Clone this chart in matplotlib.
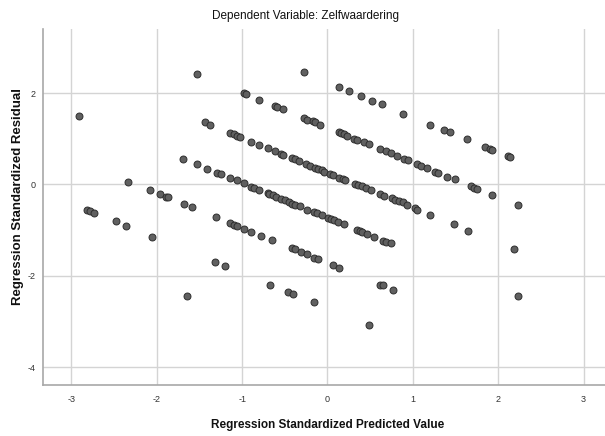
import matplotlib
matplotlib.use("Agg")
import matplotlib.pyplot as plt
from matplotlib import font_manager

title = "Dependent Variable: Zelfwaardering"
x_label = "Regression Standardized Predicted Value"
y_label = "Regression Standardized Residual"

x_ticks = [-3, -2, -1, 0, 1, 2, 3]
y_ticks = [-4, -2, 0, 2]

# isolated / left points
pred_a = [-2.91, -2.82, -2.78, -2.73, -2.48, -2.36, -2.34, -2.08, -2.05, -1.96, -1.89, -1.87,
          -1.68, -1.59, -1.65, -1.53, -0.28]
resid_a = [1.49, -0.55, -0.58, -0.63, -0.81, -0.91, 0.06, -0.13, -1.15, -0.22, -0.27, -0.28,
           -0.43, -0.50, -2.43, 2.42, 2.45]

# top band
pred_t = [0.13, 0.25, 0.39, 0.52, 0.64, 0.89, 1.20, 1.36, 1.44, 1.63, 1.84, 1.90, 1.93, 2.11, 2.14]
resid_t = [2.14, 2.04, 1.93, 1.83, 1.75, 1.55, 1.31, 1.20, 1.14, 0.99, 0.82, 0.77, 0.75, 0.62, 0.59]

# band 1
pred_1 = [-0.98, -0.95, -0.80, -0.62, -0.59, -0.52, -0.28, -0.24, -0.17, -0.15, -0.09,
          0.13, 0.16, 0.19, 0.23, 0.31, 0.34, 0.43, 0.49, 0.62, 0.68, 0.74, 0.81, 0.90, 0.94,
          1.05, 1.10, 1.16, 1.26, 1.30, 1.40, 1.49, 1.68, 1.72, 1.75, 1.93, 2.23]
resid_1 = [1.99, 1.97, 1.85, 1.72, 1.69, 1.64, 1.45, 1.42, 1.39, 1.36, 1.31,
           1.15, 1.13, 1.10, 1.07, 1.00, 0.98, 0.92, 0.88, 0.78, 0.74, 0.69, 0.63, 0.56, 0.53,
           0.45, 0.41, 0.36, 0.28, 0.25, 0.17, 0.11, -0.04, -0.07, -0.09, -0.23, -0.46]

# band 2
pred_2 = [-1.44, -1.38, -1.14, -1.09, -1.06, -1.02, -0.89, -0.80, -0.70, -0.61, -0.55, -0.52,
          -0.42, -0.38, -0.33, -0.25, -0.20, -0.15, -0.11, -0.07, -0.04, 0.03, 0.07, 0.13, 0.18,
          0.21, 0.32, 0.36, 0.40, 0.45, 0.51, 0.62, 0.66, 0.75, 0.79, 0.84, 0.88, 0.93, 1.02,
          1.05, 1.20, 1.48, 1.65]
resid_2 = [1.36, 1.31, 1.13, 1.10, 1.07, 1.04, 0.93, 0.86, 0.79, 0.73, 0.67, 0.65,
           0.58, 0.55, 0.52, 0.45, 0.40, 0.37, 0.33, 0.31, 0.28, 0.23, 0.20, 0.15, 0.12,
           0.09, 0.01, -0.02, -0.04, -0.08, -0.12, -0.22, -0.25, -0.29, -0.33, -0.36, -0.39, -0.44, -0.52,
           -0.55, -0.66, -0.87, -1.01]

# band 3
pred_3 = [-1.69, -1.53, -1.41, -1.29, -1.25, -1.14, -1.06, -0.98, -0.89, -0.86, -0.80, -0.70,
          -0.68, -0.64, -0.60, -0.55, -0.50, -0.45, -0.41, -0.38, -0.32, -0.24, -0.16, -0.12,
          -0.07, 0.01, 0.04, 0.08, 0.12, 0.19, 0.34, 0.38, 0.41, 0.46, 0.55, 0.65, 0.68, 0.74]
resid_3 = [0.56, 0.44, 0.34, 0.25, 0.23, 0.15, 0.09, 0.03, -0.05, -0.07, -0.12, -0.18,
           -0.21, -0.24, -0.27, -0.31, -0.35, -0.39, -0.42, -0.44, -0.48, -0.55, -0.60, -0.63,
           -0.66, -0.73, -0.75, -0.78, -0.82, -0.87, -0.99, -1.02, -1.04, -1.08, -1.15, -1.23, -1.25, -1.29]

# band 4
pred_4 = [-1.30, -1.14, -1.09, -1.06, -0.98, -0.89, -0.78, -0.65, -0.42, -0.38, -0.31, -0.24,
          -0.16, -0.11, 0.06, 0.13]
resid_4 = [-0.72, -0.85, -0.88, -0.91, -0.97, -1.04, -1.12, -1.22, -1.39, -1.42, -1.47, -1.53,
           -1.60, -1.64, -1.76, -1.82]

# lower points
pred_5 = [-1.32, -1.20, -0.67, -0.46, -0.40, -0.16, 0.49, 0.62, 0.65, 0.77, 2.18, 2.23]
resid_5 = [-1.69, -1.79, -2.20, -2.36, -2.40, -2.58, -3.08, -2.20, -2.21, -2.31, -1.42, -2.44]

predicted = pred_a + pred_t + pred_1 + pred_2 + pred_3 + pred_4 + pred_5
residual = resid_a + resid_t + resid_1 + resid_2 + resid_3 + resid_4 + resid_5

installed = {f.name for f in font_manager.fontManager.ttflist}
narrow = "Liberation Sans Narrow" if "Liberation Sans Narrow" in installed else "Liberation Sans"

fig = plt.figure(figsize=(6.05, 4.36), dpi=100)
ax = fig.add_axes([0.0706, 0.1163, 0.9294, 0.8165])

ax.set_xlim(-3.335, 3.25)
ax.set_ylim(-4.394, 3.394)
ax.set_xticks(x_ticks)
ax.set_yticks(y_ticks)
ax.set_xticklabels([str(v) for v in x_ticks], family=narrow, fontsize=6.5, color="#333333")
ax.set_yticklabels([str(v) for v in y_ticks], family=narrow, fontsize=6.5, color="#333333")
ax.tick_params(axis="x", length=0, pad=7)
ax.tick_params(axis="y", length=0, pad=5)

ax.grid(True, color="#d4d4d4", linewidth=1.0)
ax.set_axisbelow(True)
for s in ["top", "right"]:
    ax.spines[s].set_visible(False)
for s in ["left", "bottom"]:
    ax.spines[s].set_color("#a8a8a8")
    ax.spines[s].set_linewidth(1.2)

ax.scatter(predicted, residual, s=25, facecolor="#606060", edgecolor="#2e2e2e",
           linewidth=0.7, zorder=3)

fig.text(0.505, 0.964, title, ha="center", va="center", family=narrow,
         fontsize=8.5, color="#111111")
fig.text(0.541, 0.025, x_label, ha="center", va="center", family=narrow,
         fontsize=8.5, fontweight="bold", color="#111111")
fig.text(0.030, 0.55, y_label, ha="center", va="center", rotation=90,
         family="Liberation Sans", fontsize=9.5, fontweight="bold", color="#111111")

fig.savefig("out.png", dpi=100)
